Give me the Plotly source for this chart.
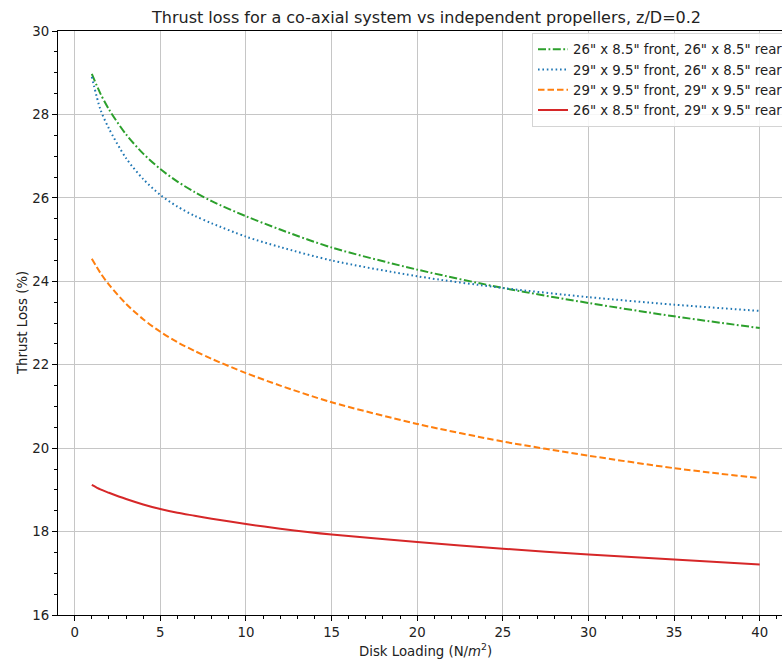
import plotly.graph_objects as go

# Disk loading (N/m^2) sample points
disk_loading = [1, 1.5, 2, 3, 4, 5, 6, 7, 8, 10, 12, 15, 20, 25, 30, 35, 40]

# Thrust loss (%) for each front/rear propeller pairing
loss_26f_26r = [28.97, 28.50, 28.12, 27.52, 27.06, 26.69, 26.39, 26.14, 25.92, 25.56, 25.24, 24.81, 24.28, 23.84, 23.48, 23.16, 22.88]
loss_29f_26r = [28.90, 28.12, 27.66, 26.95, 26.45, 26.07, 25.79, 25.57, 25.39, 25.07, 24.82, 24.50, 24.12, 23.84, 23.62, 23.44, 23.29]
loss_29f_29r = [24.54, 24.20, 23.92, 23.46, 23.09, 22.79, 22.54, 22.33, 22.14, 21.80, 21.50, 21.10, 20.58, 20.16, 19.82, 19.52, 19.28]
loss_26f_29r = [19.12, 19.01, 18.93, 18.78, 18.65, 18.54, 18.45, 18.38, 18.31, 18.18, 18.07, 17.93, 17.75, 17.59, 17.45, 17.33, 17.21]

series = [
    ('26" x 8.5" front, 26" x 8.5" rear', loss_26f_26r, "#2ca02c", "8px,2.5px,1.8px,2.5px"),
    ('29" x 9.5" front, 26" x 8.5" rear', loss_29f_26r, "#1f77b4", "1.6px,2.8px"),
    ('29" x 9.5" front, 29" x 9.5" rear', loss_29f_29r, "#ff7f0e", "6.5px,3px"),
    ('26" x 8.5" front, 29" x 9.5" rear', loss_26f_29r, "#d62728", "solid"),
]

FONT = "DejaVu Sans"
W, H = 782, 661
ML, MR, MT, MB = 58, 0, 31, 46
X_RANGE = [-0.975, 41.3]
Y_RANGE = [16, 30]

fig = go.Figure()
for name, vals, color, dash in series:
    fig.add_trace(go.Scatter(
        x=disk_loading, y=vals, name=name, mode="lines",
        line=dict(color=color, width=2, dash=dash, shape="spline", smoothing=0.8),
    ))

axis_common = dict(
    showline=True, linecolor="black", linewidth=1.3,
    ticks="outside", ticklen=5, tickwidth=1.2, tickcolor="black",
    showgrid=True, gridcolor="#c6c6c6", gridwidth=1.3,
    zeroline=False,
    tickfont=dict(family=FONT, size=13.3, color="#222"),
)

fig.update_xaxes(
    range=X_RANGE, tick0=0, dtick=5, mirror=True,
    minor=dict(ticks="outside", ticklen=3, tickwidth=1, tickcolor="black", dtick=1, tick0=0, showgrid=False),
    **axis_common,
)
fig.update_yaxes(
    range=Y_RANGE, tick0=16, dtick=2, mirror=False,
    minor=dict(ticks="outside", ticklen=3, tickwidth=1, tickcolor="black", dtick=0.5, tick0=16, showgrid=False),
    **axis_common,
)

plot_w = W - ML - MR
plot_h = H - MT - MB

fig.update_layout(
    width=W, height=H,
    margin=dict(l=ML, r=MR, t=MT, b=MB, autoexpand=False),
    paper_bgcolor="white", plot_bgcolor="white",
    font=dict(family=FONT, color="#222"),
    showlegend=True,
    legend=dict(
        x=(532 - ML) / plot_w, y=1 - (33 - MT) / plot_h,
        xanchor="left", yanchor="top",
        bgcolor="rgba(255,255,255,0.85)", bordercolor="#d4d4d4", borderwidth=1,
        font=dict(family=FONT, size=13.3, color="#222"),
        tracegroupgap=0,
    ),
    annotations=[
        dict(text="Thrust loss for a co-axial system vs independent propellers, z/D=0.2",
             xref="x", x=(-0.95 + 41.95) / 2, yref="paper", y=1 + (MT - 17) / plot_h,
             xanchor="center", yanchor="middle", showarrow=False,
             font=dict(family=FONT, size=16, color="#222")),
        dict(text="Disk Loading (N/<i>m</i><sup>2</sup>)",
             xref="x", x=(-0.95 + 41.95) / 2, yref="paper", y=-(650 - (H - MB)) / plot_h,
             xanchor="center", yanchor="middle", showarrow=False,
             font=dict(family=FONT, size=13.3, color="#222")),
        dict(text="Thrust Loss (%)",
             xref="paper", x=(22 - ML) / plot_w, yref="paper", y=0.5,
             xanchor="center", yanchor="middle", textangle=-90, showarrow=False,
             font=dict(family=FONT, size=13.3, color="#222")),
    ],
)

fig.write_html("out.html")
